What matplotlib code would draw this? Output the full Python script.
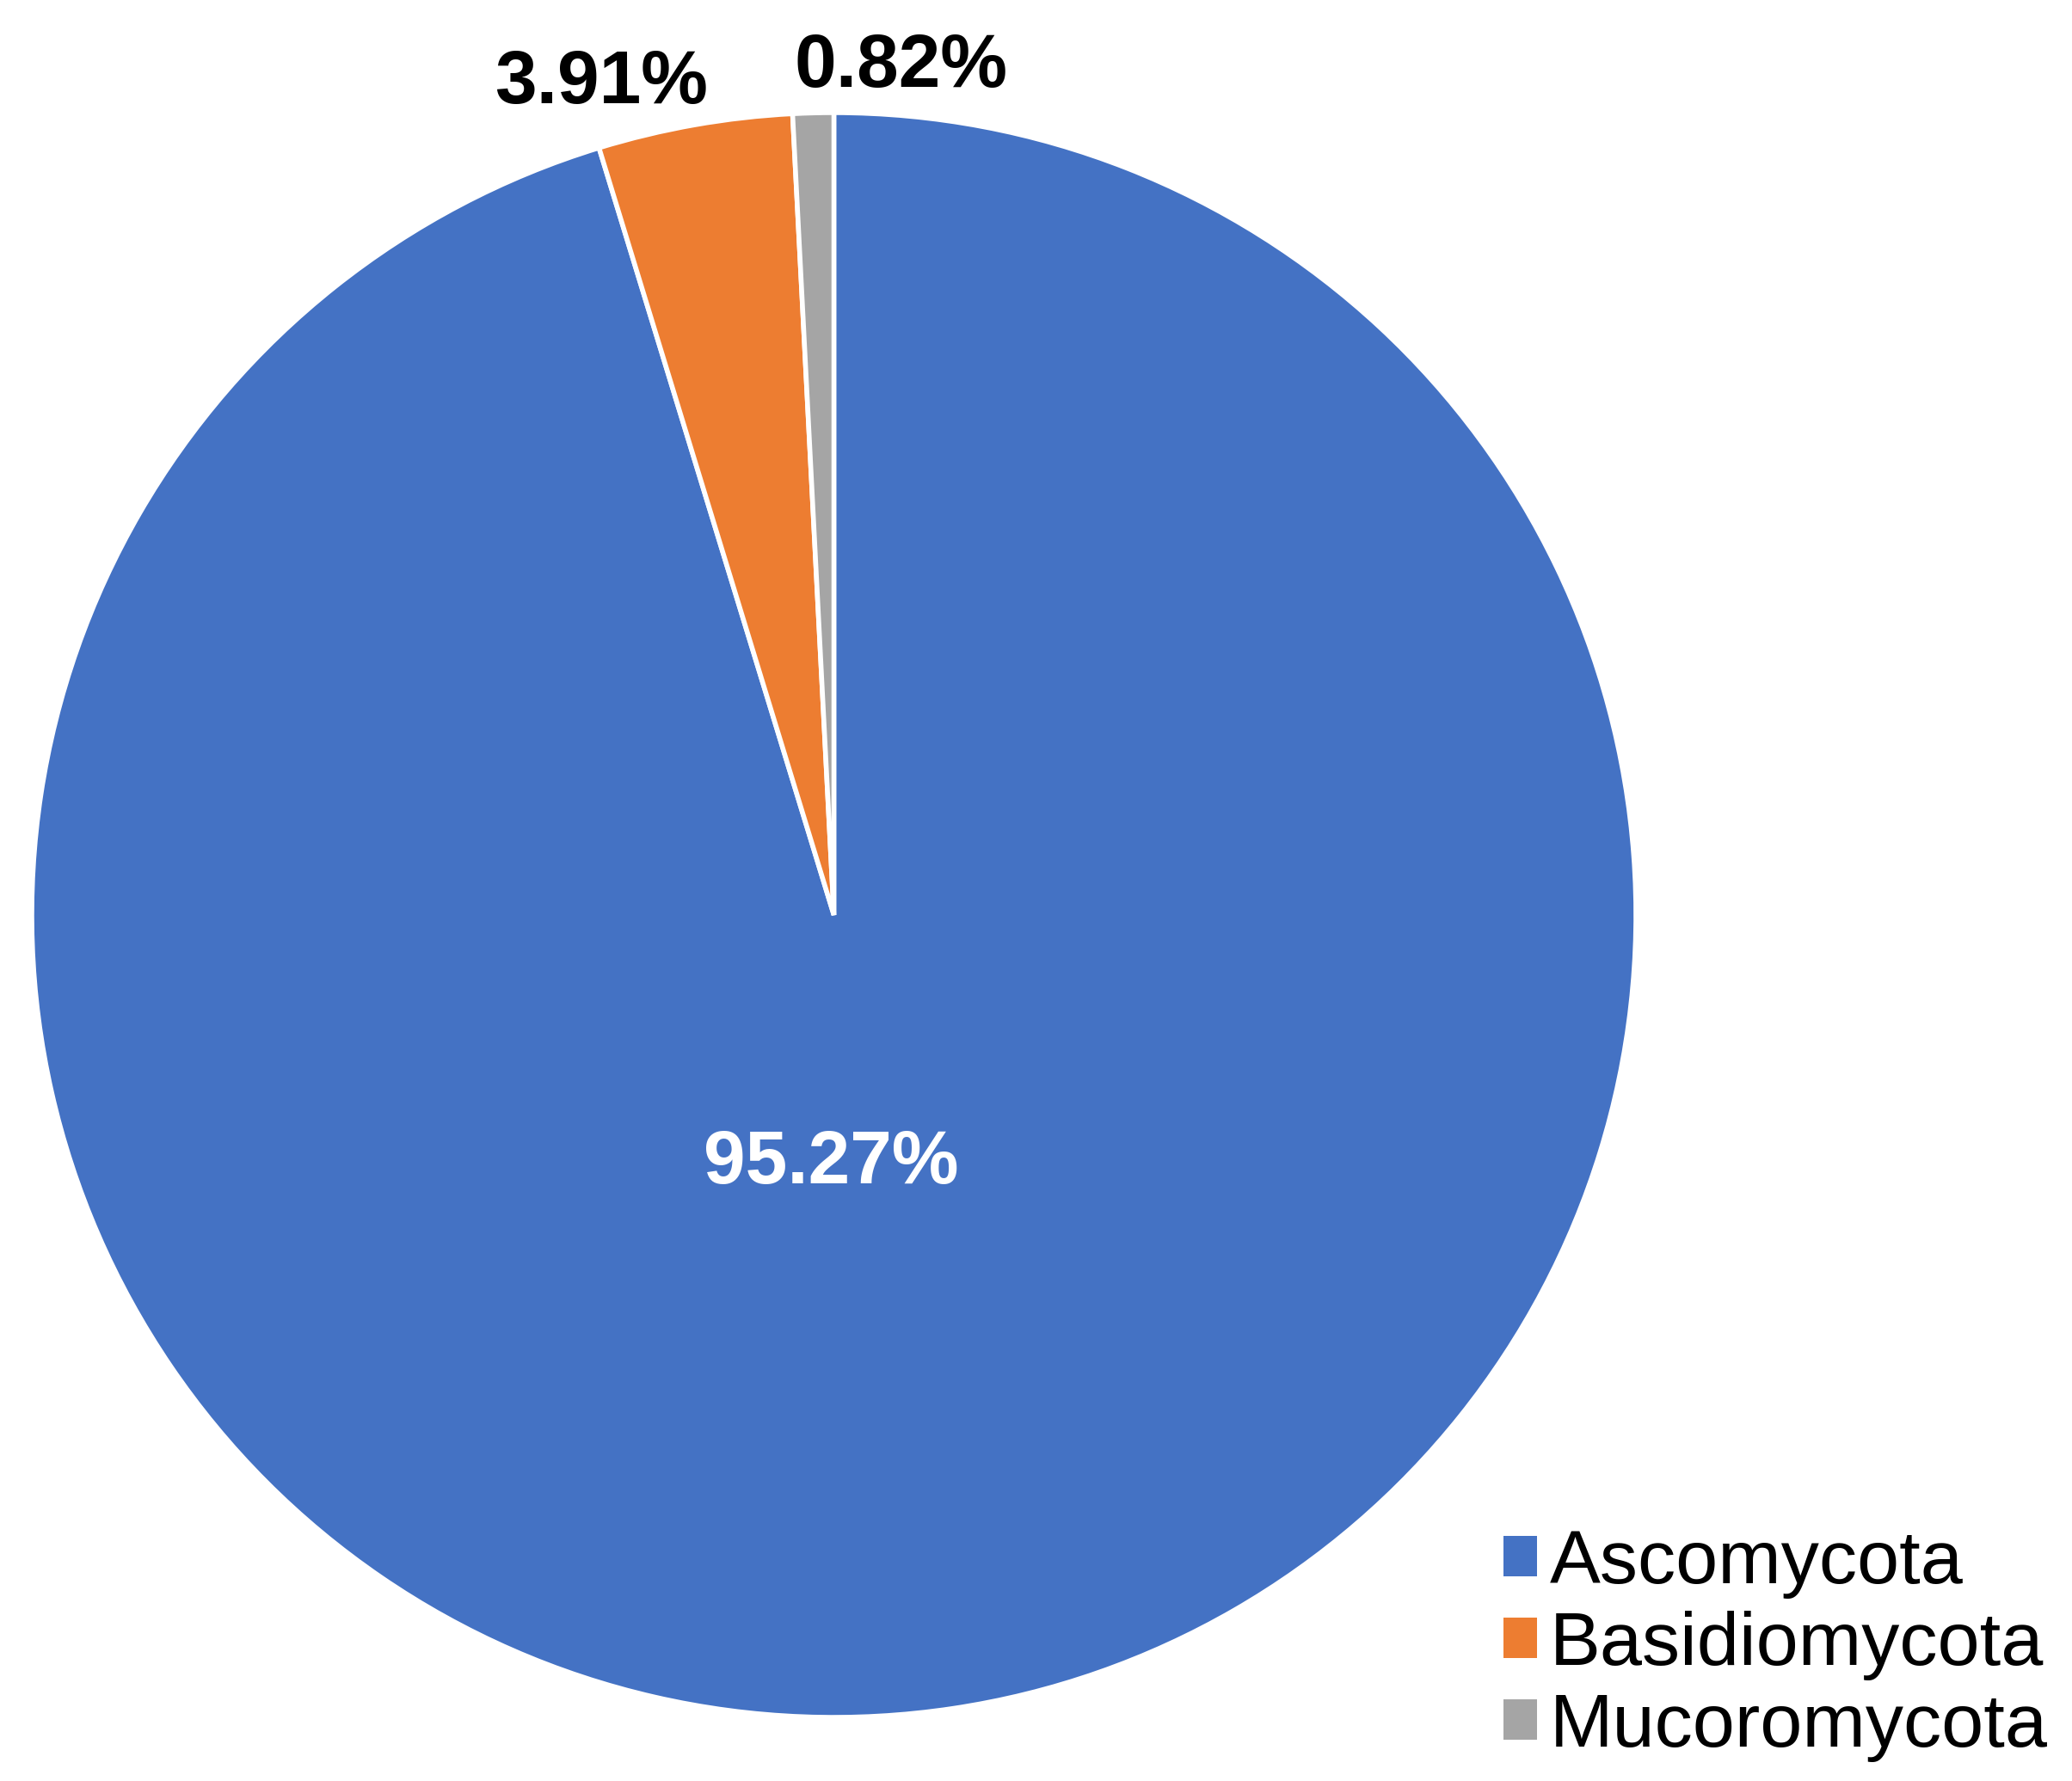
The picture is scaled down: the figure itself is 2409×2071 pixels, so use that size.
import matplotlib
matplotlib.use("Agg")
import matplotlib.pyplot as plt
from matplotlib.patches import Patch

categories = ["Ascomycota", "Basidiomycota", "Mucoromycota"]
values = [95.27, 3.91, 0.82]
pct_labels = ["95.27%", "3.91%", "0.82%"]
colors = ["#4472C4", "#ED7D31", "#A5A5A5"]

plt.rcParams['font.family'] = ['Liberation Sans', 'DejaVu Sans']

W, H = 2409, 2071
fig = plt.figure(figsize=(W / 100, H / 100), dpi=100)
# pie area in pixels: x 37..1902, y(top-down) 131..1997
ax = fig.add_axes([37 / W, (H - 1997) / H, 1865 / W, 1866 / H])
wedges, _ = ax.pie(values, colors=colors, startangle=90, counterclock=False,
                   radius=1.0, wedgeprops=dict(edgecolor="white", linewidth=4))
ax.set_xlim(-1, 1)
ax.set_ylim(-1, 1)
ax.set_aspect("auto")
ax.axis("off")

label_pos = [(-0.003, -0.31), (-0.29, 1.036), (0.084, 1.056)]
label_colors = ["white", "black", "black"]
for txt, (x, y), c in zip(pct_labels, label_pos, label_colors):
    ax.text(x, y, txt, ha="center", va="center", fontsize=63, fontweight="bold",
            color=c, clip_on=False)

handles = [Patch(facecolor=c, edgecolor="none") for c in colors]
fig.legend(handles, categories, loc="upper left",
           bbox_to_anchor=(1748 / W, 1 - 1778 / H), frameon=False,
           fontsize=63.5, handlelength=0.44, handleheight=0.44,
           handletextpad=0.17, labelspacing=0.16, borderpad=0,
           borderaxespad=0)

fig.savefig("out.png", dpi=100, facecolor="white")
